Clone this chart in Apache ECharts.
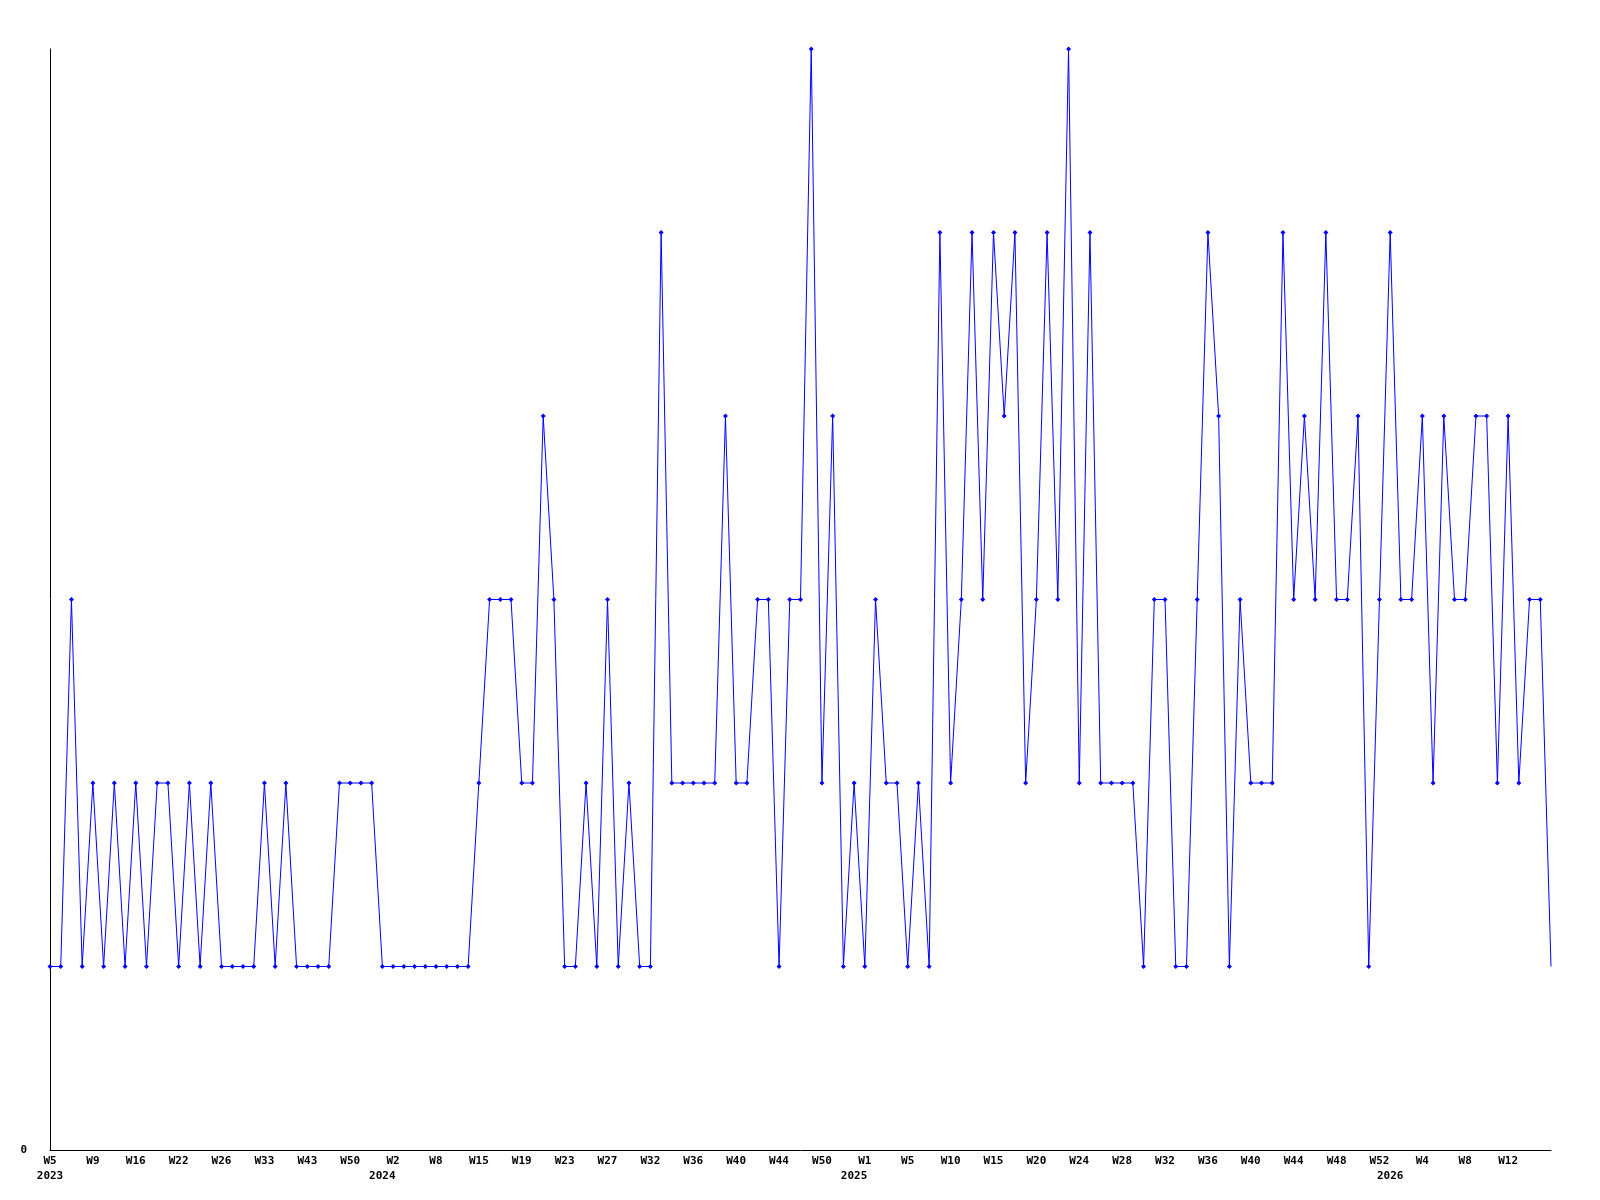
<!DOCTYPE html>
<html>
<head>
<meta charset="utf-8">
<title>Weekly count</title>
<script src="https://cdn.jsdelivr.net/npm/echarts@6/dist/echarts.min.js"></script>
<style>
  html, body { margin: 0; padding: 0; background: #fff; }
  #chart { width: 1600px; height: 1200px; }
</style>
</head>
<body>
<div id="chart"></div>
<script>
// week of each point (only every 4th one is printed on the axis)
const weeks = [
  'W5', 'W6', 'W7', 'W8', 'W9', 'W11', 'W13', 'W14', 'W16', 'W18', 'W19', 'W21',
  'W22', 'W23', 'W24', 'W25', 'W26', 'W28', 'W30', 'W31', 'W33', 'W36', 'W38', 'W41',
  'W43', 'W45', 'W47', 'W48', 'W50', 'W51', 'W52', 'W1', 'W2', 'W4', 'W5', 'W7',
  'W8', 'W10', 'W12', 'W13', 'W15', 'W16', 'W17', 'W18', 'W19', 'W20', 'W21', 'W22',
  'W23', 'W24', 'W25', 'W26', 'W27', 'W29', 'W30', 'W31', 'W32', 'W33', 'W34', 'W35',
  'W36', 'W37', 'W38', 'W39', 'W40', 'W41', 'W42', 'W43', 'W44', 'W46', 'W47', 'W49',
  'W50', 'W51', 'W52', 'W52', 'W1', 'W2', 'W3', 'W4', 'W5', 'W7', 'W8', 'W9',
  'W10', 'W11', 'W12', 'W14', 'W15', 'W16', 'W18', 'W19', 'W20', 'W21', 'W22', 'W23',
  'W24', 'W25', 'W26', 'W27', 'W28', 'W29', 'W30', 'W31', 'W32', 'W33', 'W34', 'W35',
  'W36', 'W37', 'W38', 'W39', 'W40', 'W41', 'W42', 'W43', 'W44', 'W45', 'W46', 'W47',
  'W48', 'W49', 'W50', 'W51', 'W52', 'W1', 'W2', 'W3', 'W4', 'W5', 'W6', 'W7',
  'W8', 'W9', 'W10', 'W11', 'W12', 'W13', 'W14', 'W15', 'W16'
];

// year printed under the point where it starts
const yearStarts = [[0, '2023'], [31, '2024'], [75, '2025'], [125, '2026']];

const counts = [
  1, 1, 3, 1, 2, 1, 2, 1, 2, 1, 2, 2, 1, 2, 1, 2, 1, 1, 1, 1,
  2, 1, 2, 1, 1, 1, 1, 2, 2, 2, 2, 1, 1, 1, 1, 1, 1, 1, 1, 1,
  2, 3, 3, 3, 2, 2, 4, 3, 1, 1, 2, 1, 3, 1, 2, 1, 1, 5, 2, 2,
  2, 2, 2, 4, 2, 2, 3, 3, 1, 3, 3, 6, 2, 4, 1, 2, 1, 3, 2, 2,
  1, 2, 1, 5, 2, 3, 5, 3, 5, 4, 5, 2, 3, 5, 3, 6, 2, 5, 2, 2,
  2, 2, 1, 3, 3, 1, 1, 3, 5, 4, 1, 3, 2, 2, 2, 5, 3, 4, 3, 5,
  3, 3, 4, 1, 3, 5, 3, 3, 4, 2, 4, 3, 3, 4, 4, 2, 4, 2, 3, 3,
  1
];

const years = weeks.map(() => '');
yearStarts.forEach(([i, y]) => { years[i] = y; });

const last = counts.length - 1;

const labelFont = {
  fontFamily: 'DejaVu Sans Mono',
  fontSize: 11,
  fontWeight: 'bold',
  color: '#000'
};

const chart = echarts.init(document.getElementById('chart'));
chart.setOption({
  animation: false,
  grid: { left: 50, right: 49, top: 49, bottom: 50 },
  xAxis: [
    {
      type: 'category',
      data: weeks,
      boundaryGap: false,
      axisLine: { lineStyle: { color: '#000', width: 1 } },
      axisTick: { show: false },
      splitLine: { show: false },
      axisLabel: {
        ...labelFont,
        margin: 6,
        hideOverlap: false,
        interval: (i) => i % 4 === 0 && i < last
      }
    },
    {
      type: 'category',
      data: weeks,
      position: 'bottom',
      boundaryGap: false,
      axisLine: { show: false },
      axisTick: { show: false },
      splitLine: { show: false },
      axisLabel: {
        ...labelFont,
        margin: 21,
        hideOverlap: false,
        interval: (i) => years[i] !== '',
        formatter: (v, i) => years[i]
      }
    }
  ],
  yAxis: {
    type: 'value',
    min: 0,
    max: 6,
    interval: 6,
    axisLine: { show: true, lineStyle: { color: '#000', width: 1 } },
    axisTick: { show: false },
    splitLine: { show: false },
    axisLabel: { ...labelFont, margin: 23, showMaxLabel: false }
  },
  series: [
    {
      type: 'line',
      xAxisIndex: 0,
      data: counts.map((v, i) => (i === last ? { value: v, symbol: 'none' } : v)),
      symbol: 'diamond',
      symbolSize: 5,
      showAllSymbol: true,
      lineStyle: { color: '#0000ff', width: 1 },
      itemStyle: { color: '#0000ff' }
    }
  ]
});
</script>
</body>
</html>
